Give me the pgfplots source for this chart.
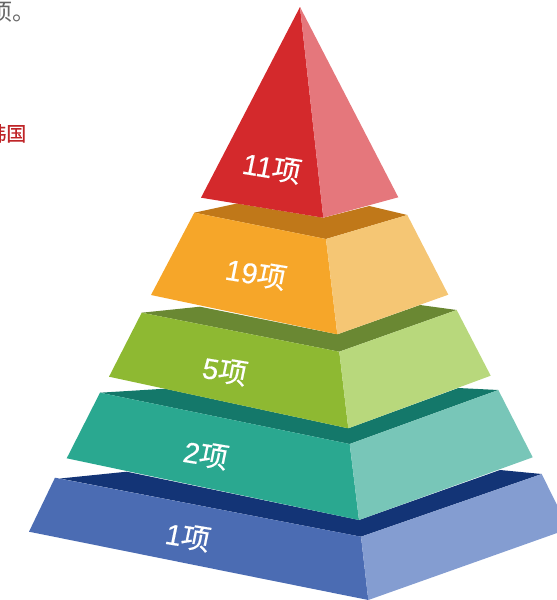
\documentclass[border=0pt]{standalone}
\usepackage{fontspec}
\setmainfont[FakeBold=0.35]{Liberation Sans}
\newfontfamily\cjk[FakeBold=0.35]{Noto Sans CJK SC}
\newfontfamily\cjkplain{Noto Sans CJK SC}
\usepackage{pgfplots}
\pgfplotsset{compat=1.18}

\definecolor{red1}{HTML}{D4292C}
\definecolor{red2}{HTML}{E5777C}
\definecolor{org1}{HTML}{F6A629}
\definecolor{org2}{HTML}{F5C674}
\definecolor{org3}{HTML}{C07819}
\definecolor{grn1}{HTML}{8EB932}
\definecolor{grn2}{HTML}{B8D87C}
\definecolor{grn3}{HTML}{6A8833}
\definecolor{tea1}{HTML}{2AA890}
\definecolor{tea2}{HTML}{78C6B8}
\definecolor{tea3}{HTML}{14786A}
\definecolor{blu1}{HTML}{4B6CB3}
\definecolor{blu2}{HTML}{849DD1}
\definecolor{blu3}{HTML}{133476}

\newcommand{\lab}[1]{\fontsize{29}{29}\selectfont\color{white}#1{\cjk 项}}
\tikzset{
  faces/.style={fill=#1, draw=none},
  lbl/.style={transform shape, cm={0.98,-0.16,0.2,0.98,(0,0)}, inner sep=0pt},
}

\begin{document}
\begin{tikzpicture}
\useasboundingbox (0,0) rectangle (557pt,600pt);
\begin{axis}[
    scale only axis,
    width=557pt,
    height=600pt,
    xmin=0, xmax=557,
    ymin=0, ymax=600,
    y dir=reverse,
    hide axis,
    clip=true,
  ]
  % bottom layer
  \addplot[faces=blu3] coordinates {(60,478.5) (126.7,471.7) (359,520) (500,470) (541.7,474) (361,536.7) (60,478.5)};
  \addplot[faces=blu1] coordinates {(55,477.7) (361,536.7) (368.3,600) (29,531.7) (55,477.7)};
  \addplot[faces=blu2] coordinates {(361,536.7) (541.7,474) (557,505) (557,533) (368.3,600) (361,536.7)};
  % second layer
  \addplot[faces=tea3] coordinates {(100,392.7) (165,388.7) (348.3,428.3) (458.3,388) (498.3,390) (349.7,444) (100,392.7)};
  \addplot[faces=tea1] coordinates {(100,392.7) (349.7,444) (359,520) (66.7,458.3) (100,392.7)};
  \addplot[faces=tea2] coordinates {(349.7,444) (498.3,390) (532.7,457.3) (359,520) (349.7,444)};
  % third layer
  \addplot[faces=grn3] coordinates {(141.7,312.7) (200,306.7) (337.3,334.3) (420,305) (456.7,310) (339.3,351.7) (141.7,312.7)};
  \addplot[faces=grn1] coordinates {(141.7,312.7) (339.3,351.7) (348.3,428.3) (109,376.7) (141.7,312.7)};
  \addplot[faces=grn2] coordinates {(339.3,351.7) (456.7,310) (490.7,375.7) (348.3,428.3) (339.3,351.7)};
  % fourth layer
  \addplot[faces=org3] coordinates {(194.3,212.7) (237,203.5) (323.3,217.7) (369.3,206) (407.3,215) (326,239) (194.3,212.7)};
  \addplot[faces=org1] coordinates {(194.3,212.7) (326,239) (337.3,334.3) (151,295) (194.3,212.7)};
  \addplot[faces=org2] coordinates {(326,239) (407.3,215) (448.3,294.7) (337.3,334.3) (326,239)};
  % top
  \addplot[faces=red1] coordinates {(300,7) (323.3,217.7) (201,197.7) (300,7)};
  \addplot[faces=red2] coordinates {(300,7) (398.3,197.3) (323.3,217.7) (300,7)};

  \node[lbl] at (axis cs:272,168) {\lab{11}};
  \node[lbl] at (axis cs:256,274) {\lab{19}};
  \node[lbl] at (axis cs:225,371) {\lab{5}};
  \node[lbl] at (axis cs:206,455) {\lab{2}};
  \node[lbl] at (axis cs:188,537) {\lab{1}};

  \node[anchor=base east, inner sep=0pt, text=black!60] at (axis cs:36,20) {\fontsize{23}{23}\selectfont\cjkplain 项。};
  \node[anchor=base east, inner sep=0pt, text=red1!90!black] at (axis cs:26.5,141) {\fontsize{20}{20}\selectfont\cjk 韩国};
\end{axis}
\end{tikzpicture}
\end{document}
